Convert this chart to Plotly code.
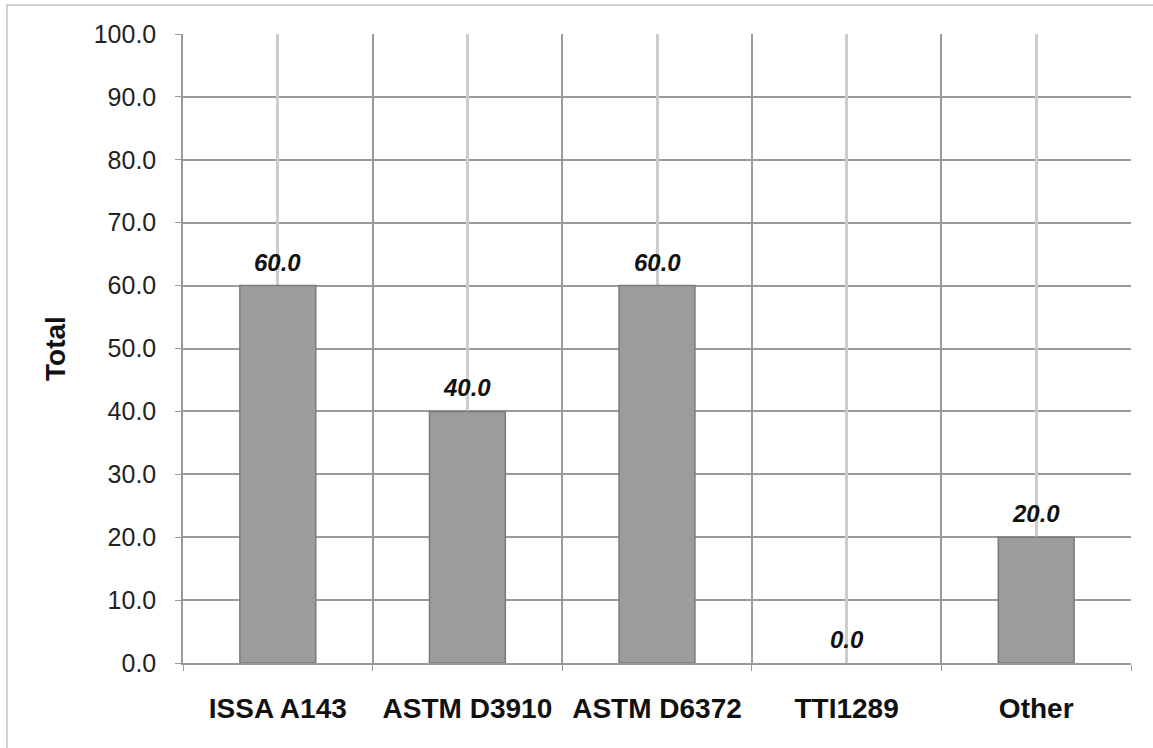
import plotly.graph_objects as go

categories = ["ISSA A143", "ASTM D3910", "ASTM D6372", "TTI1289", "Other"]
totals = [60.0, 40.0, 60.0, 0.0, 20.0]
y_tick_values = [0, 10, 20, 30, 40, 50, 60, 70, 80, 90, 100]

FONT = "Liberation Sans, Arial, Helvetica, sans-serif"

fig = go.Figure()

# invisible helper trace on overlay axis to draw category-center gridlines
fig.add_trace(go.Scatter(
    x=categories, y=totals, xaxis="x2", mode="markers",
    marker=dict(opacity=0), hoverinfo="skip", showlegend=False,
))

fig.add_trace(go.Bar(
    x=categories, y=totals,
    width=0.4,
    marker=dict(color="#9c9c9c",
                line=dict(color="#7a7a7a", width=[0 if v == 0 else 1.5 for v in totals])),
    showlegend=False,
))

for c, v in zip(categories, totals):
    fig.add_annotation(
        x=c, y=v, xref="x", yref="y", text=f"<b><i>{v:.1f}</i></b>",
        showarrow=False, yanchor="bottom", yshift=8,
        font=dict(family=FONT, size=24, color="#111111"),
    )

fig.update_layout(
    width=1153, height=748,
    paper_bgcolor="white", plot_bgcolor="white",
    margin=dict(l=183, r=22, t=34, b=85),
    font=dict(family=FONT, size=24, color="#222222"),
    xaxis=dict(
        type="category", categoryarray=categories,
        range=[-0.5, len(categories) - 0.5],
        tickson="boundaries", showgrid=True, gridcolor="#9a9a9a", gridwidth=1.5,
        ticks="outside", ticklen=6, tickcolor="#9a9a9a",
        showline=True, linecolor="#9a9a9a", linewidth=1.5,
        tickfont=dict(family=FONT, size=28, color="#111111", weight="bold"),
        ticklabelstandoff=20,
    ),
    xaxis2=dict(
        type="category", categoryarray=categories,
        range=[-0.5, len(categories) - 0.5],
        overlaying="x", showgrid=True, gridcolor="#cccccc", gridwidth=2.5,
        showticklabels=False, ticks="", showline=False, zeroline=False,
    ),
    yaxis=dict(
        range=[0, 100], tickvals=y_tick_values, tickformat=".1f",
        showgrid=True, gridcolor="#9a9a9a", gridwidth=1.5,
        ticks="outside", ticklen=6, tickcolor="#9a9a9a",
        showline=True, linecolor="#9a9a9a", linewidth=1.5, zeroline=False,
        tickfont=dict(family=FONT, size=25, color="#222222"),
        ticklabelstandoff=14,
        title=dict(text="<b>Total</b>", font=dict(family=FONT, size=28, color="#111111"), standoff=20),
    ),
    shapes=[dict(
        type="rect", xref="paper", yref="paper",
        x0=-0.1857, x1=1.2, y0=-0.3, y1=1.046,
        line=dict(color="#cfcfcf", width=2), fillcolor="rgba(0,0,0,0)", layer="below",
    )],
)

fig.write_html("out.html", config={"displayModeBar": False},
               post_script="document.body.style.margin='0';")
